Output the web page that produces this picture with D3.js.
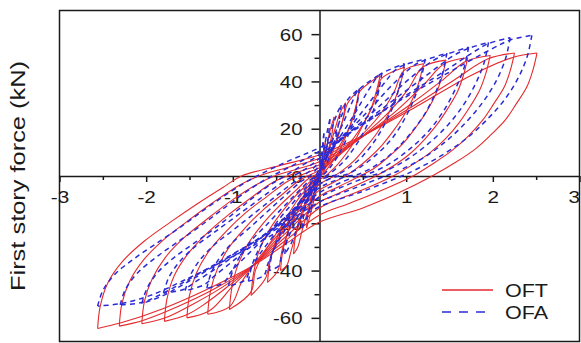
<!DOCTYPE html>
<html>
<head>
<meta charset="utf-8">
<script src="https://cdn.jsdelivr.net/npm/d3@7"></script>
<style>
  body { margin: 0; background: #fff; }
  svg { display: block; }
</style>
</head>
<body>
<svg id="chart" width="581" height="343"></svg>
<script>
// ---- axis ticks and labels ----
const xMajorTicks = [-3, -2, -1, 0, 1, 2, 3];
const xMinorTicks = [-2.5, -1.5, -0.5, 0.5, 1.5, 2.5];
const xTickLabels = ["-3", "-2", "-1", "", "1", "2", "3"];
const yMajorTicks = [-60, -40, -20, 0, 20, 40, 60];
const yMinorTicks = [-50, -30, -10, 10, 30, 50];
const yTickLabels = ["-60", "-40", "-20", "0", "20", "40", "60"];
const yTitle = "First story force (kN)";
const seriesNames = ["OFT", "OFA"];

// ---- OFT hysteresis loops: loading branch (negative peak -> positive peak) ----
const oftLoading = [
  [[-2.56,-64.5],[-2.53,-55],[-2.44,-45],[-2.27,-36],[-2.02,-27.5],[-1.72,-19.5],[-1.4,-11.5],[-1.1,-4.5],[-0.9,0],[-0.45,4.5],[0,9],[0.55,18],[1.15,30],[1.72,42],[2.22,50],[2.51,52]],
  [[-2.31,-63.5],[-2.28,-54],[-2.19,-44.5],[-2.03,-35.5],[-1.8,-27],[-1.52,-19],[-1.22,-11],[-0.93,-4],[-0.7,0],[-0.35,3.8],[0,7.5],[0.55,18],[1.1,30],[1.55,40.5],[1.94,49.5],[2.25,52]],
  [[-2.05,-62.5],[-2.02,-53],[-1.93,-43.5],[-1.78,-34.5],[-1.56,-26],[-1.29,-18],[-1.0,-10],[-0.72,-3.5],[-0.52,0],[-0.25,3],[0,6],[0.55,18],[1.0,29],[1.4,40],[1.69,48.5],[1.97,51]],
  [[-1.79,-61.5],[-1.76,-52],[-1.68,-42.5],[-1.53,-33.5],[-1.32,-25],[-1.07,-17],[-0.8,-9.5],[-0.55,-3],[-0.37,0],[-0.18,2.5],[0,4.8],[0.55,18],[0.9,28],[1.2,38.5],[1.44,47.5],[1.71,50]],
  [[-1.53,-60],[-1.5,-50.5],[-1.42,-41],[-1.28,-32],[-1.08,-23.5],[-0.85,-15.5],[-0.6,-8.5],[-0.38,-2.5],[-0.24,0],[-0.1,2],[0,3.5],[0.5,17],[0.8,27],[1.02,36.5],[1.19,46],[1.46,49]],
  [[-1.29,-58.5],[-1.26,-49],[-1.18,-39.5],[-1.05,-30.5],[-0.86,-22],[-0.64,-14],[-0.42,-7.5],[-0.24,-2],[-0.14,0],[0,2.5],[0.45,16],[0.7,26],[0.86,35.5],[0.97,44.5],[1.2,47.5]],
  [[-1.04,-56.5],[-1.01,-47],[-0.94,-37.5],[-0.82,-28.5],[-0.65,-20],[-0.46,-12.5],[-0.27,-6],[-0.14,-1.5],[-0.07,0],[0,1.5],[0.35,14],[0.55,25],[0.66,34],[0.71,41],[0.98,46]],
  [[-0.79,-50.5],[-0.76,-41],[-0.7,-32],[-0.59,-23.5],[-0.44,-15.5],[-0.28,-8.5],[-0.14,-3.5],[-0.04,0],[0,1],[0.22,12],[0.36,22],[0.43,31],[0.46,35.5],[0.7,42.5]],
  [[-0.6,-45],[-0.57,-36],[-0.5,-27],[-0.4,-19],[-0.27,-11],[-0.13,-4.5],[-0.02,0],[0.1,7],[0.2,16],[0.28,25],[0.32,30.5],[0.46,36.5]],
  [[-0.45,-40],[-0.42,-31],[-0.35,-22],[-0.25,-13],[-0.12,-5],[0,0.5],[0.1,10],[0.18,20],[0.24,27],[0.3,31]],
  [[-0.3,-33],[-0.27,-24],[-0.2,-15],[-0.1,-6],[0,0],[0.07,10],[0.12,19],[0.17,25]],
  [[-0.15,-22],[-0.12,-13],[-0.06,-4],[0,1],[0.04,9],[0.07,15]]
];

// ---- OFT hysteresis loops: unloading branch (positive peak -> negative peak) ----
const oftUnloading = [
  [[2.51,52],[2.46,44.5],[2.39,37.5],[2.27,30.5],[2.14,23.5],[1.98,17.5],[1.8,11.5],[1.58,6],[1.3,0],[0.92,-7],[0.5,-13.5],[0,-19.5],[-0.4,-29],[-0.77,-38],[-1.3,-48],[-1.8,-56],[-2.28,-62],[-2.56,-64.5]],
  [[2.25,52],[2.2,44.5],[2.13,37.5],[2.01,30.5],[1.88,23.5],[1.72,17],[1.52,10.5],[1.3,5],[1.08,0],[0.72,-6],[0.35,-11.5],[0,-16.5],[-0.4,-27.5],[-0.77,-38],[-1.2,-47.5],[-1.62,-55],[-2.03,-61],[-2.31,-63.5]],
  [[1.97,51],[1.92,43.5],[1.85,36.5],[1.74,29.5],[1.61,22.5],[1.46,16],[1.28,10],[1.06,4.5],[0.85,0],[0.52,-5.5],[0.24,-9.5],[0,-13.5],[-0.4,-26],[-0.77,-38],[-1.12,-47],[-1.45,-54],[-1.78,-60],[-2.05,-62.5]],
  [[1.71,50],[1.66,42.5],[1.59,35.5],[1.48,28.5],[1.35,21.5],[1.2,15],[1.03,9],[0.84,4],[0.65,0],[0.36,-5],[0.15,-8.5],[0,-11],[-0.4,-24.5],[-0.77,-38],[-1.05,-46.5],[-1.3,-53.5],[-1.52,-58.5],[-1.79,-61.5]],
  [[1.46,49],[1.41,41.5],[1.34,34.5],[1.24,27.5],[1.11,20.5],[0.97,14],[0.81,8.5],[0.64,3.5],[0.47,0],[0.22,-4.5],[0,-8.5],[-0.4,-23],[-0.77,-38],[-1.0,-46.5],[-1.27,-57],[-1.53,-60]],
  [[1.2,47.5],[1.15,40],[1.08,33],[0.98,26],[0.86,19.5],[0.72,13],[0.57,7.5],[0.42,3],[0.3,0],[0.12,-3.5],[0,-6],[-0.4,-21.5],[-0.77,-38],[-0.9,-45],[-1.03,-55],[-1.29,-58.5]],
  [[0.98,46],[0.93,38.5],[0.86,31.5],[0.77,24.5],[0.66,18],[0.53,12],[0.4,6.5],[0.27,2.5],[0.17,0],[0,-3.5],[-0.35,-17],[-0.6,-30],[-0.74,-40],[-0.79,-49],[-1.04,-56.5]],
  [[0.7,42.5],[0.65,35],[0.59,28],[0.5,21.5],[0.41,15],[0.31,9.5],[0.2,4.5],[0.1,1],[0.07,0],[0,-1.5],[-0.25,-13],[-0.45,-25],[-0.57,-35],[-0.62,-43],[-0.79,-50.5]],
  [[0.46,36.5],[0.42,29],[0.36,22],[0.29,15.5],[0.21,9.5],[0.12,4.5],[0.04,1],[0,0],[-0.18,-10],[-0.33,-21],[-0.43,-31],[-0.48,-40],[-0.6,-45]],
  [[0.3,31],[0.27,24],[0.21,16],[0.13,8],[0.05,2],[0,-1],[-0.13,-10],[-0.25,-22],[-0.33,-32],[-0.38,-38],[-0.45,-40]],
  [[0.17,25],[0.14,17],[0.08,8],[0.02,1],[0,-1],[-0.1,-11],[-0.2,-23],[-0.25,-30],[-0.3,-33]],
  [[0.07,15],[0.05,8],[0.01,1],[-0.05,-8],[-0.11,-17],[-0.15,-22]]
];

// ---- OFA hysteresis loops: loading branch ----
const ofaLoading = [
  [[-2.56,-55],[-2.5,-48.5],[-2.36,-41.5],[-2.14,-35],[-1.9,-29],[-1.6,-21.5],[-1.3,-13.5],[-1.0,-6],[-0.72,0],[-0.38,6],[0,12],[0.45,21],[1.0,33.5],[1.55,45],[2.0,54],[2.2,57.5],[2.45,59.5]],
  [[-2.3,-54.5],[-2.24,-48],[-2.1,-41],[-1.89,-34.5],[-1.66,-28.5],[-1.37,-21],[-1.08,-13],[-0.8,-5.5],[-0.55,0],[-0.28,5],[0,10.5],[0.45,20.5],[0.95,33],[1.45,44.5],[1.78,52.5],[1.95,56],[2.2,58.5]],
  [[-2.05,-54],[-1.99,-47.5],[-1.86,-40.5],[-1.66,-34],[-1.43,-28],[-1.15,-20.5],[-0.88,-12.5],[-0.62,-5],[-0.4,0],[-0.2,4.5],[0,9],[0.4,19.5],[0.85,32],[1.25,43],[1.55,51],[1.72,54],[1.95,56.5]],
  [[-1.8,-49.5],[-1.74,-43],[-1.62,-36.5],[-1.44,-30],[-1.22,-24],[-0.96,-17],[-0.7,-10],[-0.46,-3.5],[-0.3,0],[-0.14,3.5],[0,7.5],[0.35,18.5],[0.72,30.5],[1.05,41.5],[1.32,49],[1.47,51.5],[1.72,54.5]],
  [[-1.55,-48.5],[-1.49,-42],[-1.38,-35.5],[-1.21,-29],[-1.0,-23],[-0.76,-16],[-0.52,-9],[-0.31,-3],[-0.19,0],[-0.08,3],[0,6],[0.3,17.5],[0.6,29],[0.88,40],[1.1,47],[1.22,49],[1.47,52]],
  [[-1.3,-47.5],[-1.25,-41],[-1.15,-34.5],[-1.0,-28],[-0.81,-22],[-0.6,-15],[-0.39,-8],[-0.2,-2],[-0.11,0],[0,4.5],[0.25,16],[0.5,27.5],[0.72,38],[0.88,45],[0.98,47],[1.22,49.5]],
  [[-1.05,-46.5],[-1.0,-40],[-0.91,-33.5],[-0.78,-27],[-0.62,-21],[-0.44,-14],[-0.27,-7.5],[-0.12,-2],[-0.05,0],[0,3],[0.2,14.5],[0.4,26],[0.56,36],[0.67,42],[0.72,43.5],[0.98,47.5]],
  [[-0.82,-44.5],[-0.78,-38],[-0.7,-31],[-0.59,-24.5],[-0.46,-18],[-0.31,-11.5],[-0.17,-5.5],[-0.05,-1],[0,1.5],[0.14,12],[0.28,23],[0.38,31.5],[0.44,36],[0.72,43.5]],
  [[-0.58,-40],[-0.55,-33.5],[-0.48,-26.5],[-0.38,-19.5],[-0.26,-12.5],[-0.13,-6],[-0.03,-1],[0,0.5],[0.1,10],[0.2,20],[0.27,27],[0.32,32],[0.46,37]],
  [[-0.4,-33],[-0.37,-25],[-0.3,-17],[-0.2,-9],[-0.08,-2],[0,2],[0.08,12],[0.15,21],[0.21,27],[0.25,30]],
  [[-0.2,-22],[-0.17,-14],[-0.1,-6],[0,1],[0.05,11],[0.09,19],[0.12,24]],
  [[-0.1,-14],[-0.06,-6],[0,1],[0.03,10],[0.05,18]]
];

// ---- OFA hysteresis loops: unloading branch ----
const ofaUnloading = [
  [[2.45,59.5],[2.4,51],[2.3,42],[2.15,33],[1.95,24.5],[1.7,16],[1.4,8.5],[1.1,2.5],[0.95,0],[0.5,-6.5],[0,-13],[-0.5,-24],[-1.0,-34],[-1.5,-43],[-1.95,-50.5],[-2.3,-54],[-2.56,-55]],
  [[2.2,58.5],[2.15,50],[2.05,41],[1.9,32],[1.71,23.5],[1.47,15],[1.19,7.5],[0.9,2],[0.76,0],[0.38,-5.5],[0,-11],[-0.5,-22.5],[-1.0,-33],[-1.45,-42.5],[-1.8,-49.5],[-2.05,-53.5],[-2.3,-54.5]],
  [[1.95,56.5],[1.9,48],[1.8,39],[1.66,30],[1.48,21.5],[1.25,13.5],[0.99,6.5],[0.72,1.5],[0.58,0],[0.27,-4.5],[0,-9],[-0.45,-20.5],[-0.9,-31],[-1.3,-40],[-1.6,-46.5],[-1.8,-50.5],[-2.05,-54]],
  [[1.72,54.5],[1.67,46],[1.57,37],[1.44,28],[1.27,19.5],[1.06,12],[0.82,5.5],[0.57,1],[0.44,0],[0.2,-3.5],[0,-7],[-0.4,-18.5],[-0.8,-29],[-1.15,-38],[-1.42,-44.5],[-1.57,-48],[-1.8,-49.5]],
  [[1.47,52],[1.42,43.5],[1.33,34.5],[1.21,26],[1.05,18],[0.86,10.5],[0.65,4.5],[0.43,0.5],[0.33,0],[0.14,-2.5],[0,-5],[-0.35,-16],[-0.7,-27],[-1.0,-36],[-1.22,-42.5],[-1.33,-46],[-1.55,-48.5]],
  [[1.22,49.5],[1.17,41],[1.09,32.5],[0.98,24],[0.84,16],[0.67,9.5],[0.48,4],[0.3,0.5],[0.22,0],[0.1,-1.5],[0,-3.5],[-0.3,-14],[-0.6,-25],[-0.85,-34],[-1.02,-40.5],[-1.1,-45],[-1.3,-47.5]],
  [[0.98,47.5],[0.93,39],[0.86,30.5],[0.76,22.5],[0.64,15],[0.5,8.5],[0.34,3.5],[0.2,0.5],[0.14,0],[0,-2],[-0.25,-12],[-0.48,-23],[-0.68,-32.5],[-0.8,-39.5],[-0.86,-44],[-1.05,-46.5]],
  [[0.72,43.5],[0.68,35.5],[0.62,27.5],[0.53,20],[0.42,13],[0.3,7],[0.17,2.5],[0.08,0],[0,-1],[-0.18,-10],[-0.36,-20.5],[-0.51,-30],[-0.6,-37.5],[-0.64,-42],[-0.82,-44.5]],
  [[0.46,37],[0.43,29.5],[0.38,22],[0.31,15.5],[0.22,9],[0.12,3.5],[0.04,0.5],[0,0],[-0.13,-8.5],[-0.26,-18],[-0.37,-27],[-0.44,-34],[-0.47,-38],[-0.58,-40]],
  [[0.25,30],[0.22,22],[0.16,13],[0.08,5],[0.02,1],[0,-0.5],[-0.12,-9],[-0.24,-20],[-0.32,-28],[-0.4,-33]],
  [[0.12,24],[0.1,16],[0.05,6],[0,0],[-0.07,-8],[-0.14,-17],[-0.2,-22]],
  [[0.05,18],[0.03,9],[0,0],[-0.05,-7],[-0.1,-14]]
];

// ---- drawing ----
const plot = { left: 59.5, right: 579.5, top: 10.5, bottom: 341.5 };
const RED = "#e52a2e", BLUE = "#2b2bd6", INK = "#1a1a1a";
const FONT = "'Liberation Sans', Arial, Helvetica, sans-serif";

const svg = d3.select("#chart");

const x = d3.scaleLinear().domain([-3, 3]).range([plot.left, plot.right]);
const y = d3.scaleLinear().domain([-70, 70]).range([plot.bottom, plot.top]);

// plot frame
svg.append("rect")
  .attr("x", plot.left).attr("y", plot.top)
  .attr("width", plot.right - plot.left).attr("height", plot.bottom - plot.top)
  .attr("fill", "none").attr("stroke", INK).attr("stroke-width", 1.5);

// horizontal axis through the origin
const gx = svg.append("g").attr("transform", `translate(0,${y(0)})`);
gx.call(d3.axisBottom(x).tickValues(xMajorTicks).tickSize(6).tickSizeOuter(0)
  .tickFormat((d, i) => xTickLabels[i]));
gx.append("g").call(d3.axisBottom(x).tickValues(xMinorTicks).tickSize(4).tickFormat(""))
  .select(".domain").remove();
gx.selectAll(".domain").attr("stroke", INK).attr("stroke-width", 1.5);
gx.selectAll(".tick line").attr("stroke", INK).attr("stroke-width", 1.5);
gx.selectAll(".tick text")
  .attr("y", 27).attr("dy", 0)
  .attr("transform", "scale(1.22,1)")
  .attr("fill", INK)
  .style("font-family", FONT).style("font-size", "17px");
// the last label sits against the right edge of the frame
gx.selectAll(".tick text").filter(d => d === 3)
  .attr("text-anchor", "end").attr("x", 0);

// vertical axis through the origin
const gy = svg.append("g").attr("transform", `translate(${x(0)},0)`);
gy.call(d3.axisLeft(y).tickValues(yMajorTicks).tickSize(8).tickSizeOuter(0)
  .tickFormat((d, i) => yTickLabels[i]));
gy.append("g").call(d3.axisLeft(y).tickValues(yMinorTicks).tickSize(5).tickFormat(""))
  .select(".domain").remove();
gy.selectAll(".domain").attr("stroke", INK).attr("stroke-width", 1.5);
gy.selectAll(".tick line").attr("stroke", INK).attr("stroke-width", 1.5);
gy.selectAll(".tick text")
  .attr("x", 0).attr("y", 6).attr("dy", 0)
  .attr("text-anchor", "end")
  .attr("transform", "translate(-17,0) scale(1.2,1)")
  .attr("fill", INK)
  .style("font-family", FONT).style("font-size", "17px");

// y-axis title
svg.append("text")
  .attr("transform", `translate(25,${(plot.top + plot.bottom) / 2}) rotate(-90)`)
  .attr("text-anchor", "middle")
  .attr("textLength", 230).attr("lengthAdjust", "spacingAndGlyphs")
  .attr("fill", INK)
  .style("font-family", FONT).style("font-size", "21px")
  .text(yTitle);

// hysteresis curves
const line = d3.line()
  .x(d => x(d[0])).y(d => y(d[1]))
  .curve(d3.curveCatmullRom.alpha(0.5));

const oft = svg.append("g").attr("fill", "none").attr("stroke", RED)
  .attr("stroke-width", 1.1).attr("stroke-linejoin", "round");
oft.selectAll("path.load").data(oftLoading).join("path").attr("class", "load").attr("d", line);
oft.selectAll("path.unload").data(oftUnloading).join("path").attr("class", "unload").attr("d", line);

const ofa = svg.append("g").attr("fill", "none").attr("stroke", BLUE)
  .attr("stroke-width", 1.5).attr("stroke-dasharray", "5,4");
ofa.selectAll("path.load").data(ofaLoading).join("path").attr("class", "load").attr("d", line);
ofa.selectAll("path.unload").data(ofaUnloading).join("path").attr("class", "unload").attr("d", line);

// legend
const legend = svg.append("g").attr("transform", "translate(442,290)");
const legendRows = legend.selectAll("g").data(seriesNames).join("g")
  .attr("transform", (d, i) => `translate(0,${i * 22})`);
legendRows.append("line")
  .attr("x1", 0).attr("x2", 51).attr("y1", 0).attr("y2", 0)
  .attr("stroke", (d, i) => i === 0 ? RED : BLUE)
  .attr("stroke-width", (d, i) => i === 0 ? 1.3 : 1.6)
  .attr("stroke-dasharray", (d, i) => i === 0 ? null : "9,8");
legendRows.append("text")
  .attr("x", 63).attr("y", 6.5)
  .attr("textLength", 43).attr("lengthAdjust", "spacingAndGlyphs")
  .attr("fill", INK)
  .style("font-family", FONT).style("font-size", "18px")
  .text(d => d);
</script>
</body>
</html>
